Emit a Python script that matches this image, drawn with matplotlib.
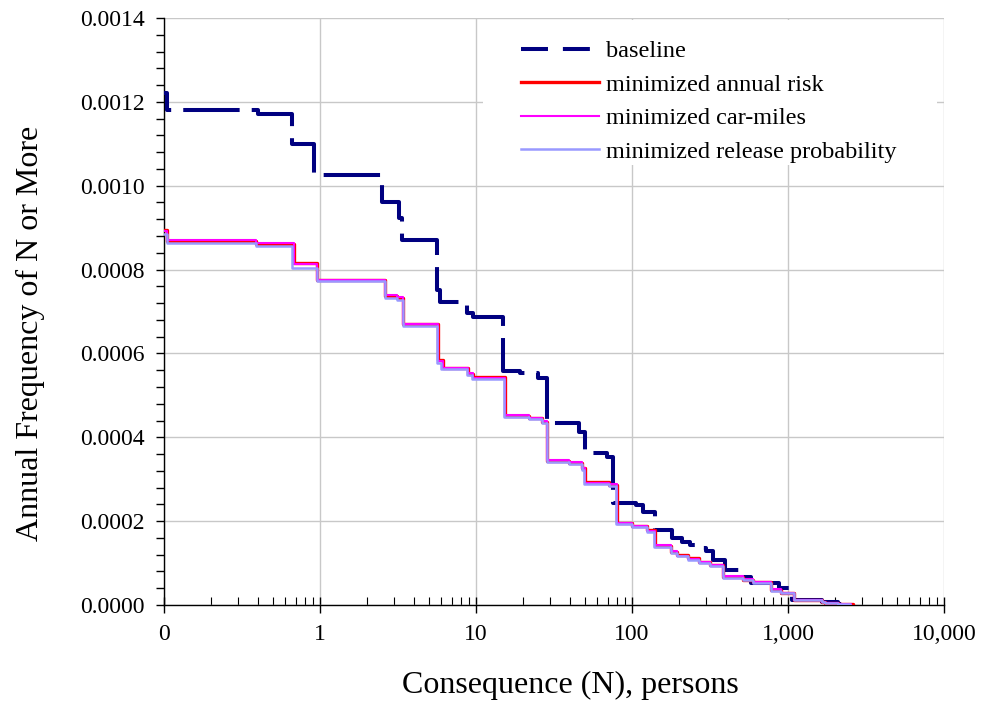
import numpy as np
import matplotlib
matplotlib.use("Agg")
import matplotlib.pyplot as plt
from matplotlib.ticker import FixedLocator, FixedFormatter, LogLocator, MultipleLocator, NullFormatter
from matplotlib.patches import Rectangle
from matplotlib.lines import Line2D

plt.rcParams['font.family'] = ['Liberation Serif', 'DejaVu Serif']

# step data: consequence N where the curve steps, frequency after the step
base_n = [0.1, 0.105, 0.40, 0.66, 0.92, 2.5, 3.2, 3.33, 5.6, 5.9, 8.8, 9.6, 14.9, 19.2, 25, 28.5,
          46, 50, 69, 75.5, 106, 117, 140, 180, 210, 236, 260, 300, 330, 395, 515, 580, 880,
          1060, 1640, 2100, 2500]
base_f = [0.00122, 0.00118, 0.00117, 0.00110, 0.001026, 0.000962, 0.000924, 0.000871, 0.000752,
          0.000723, 0.000697, 0.000687, 0.000558, 0.000553, 0.000541, 0.000434, 0.000413, 0.000363,
          0.000353, 0.000243, 0.000239, 0.000222, 0.000179, 0.00016, 0.00015, 0.000143, 0.000136,
          0.000129, 0.000107, 0.0000835, 0.0000668, 0.0000525, 0.0000406, 0.0000119, 0.000006,
          0.000003, 0.0]

risk_n = [0.1, 0.105, 0.39, 0.68, 0.95, 2.6, 3.13, 3.4, 5.7, 6.1, 8.9, 9.5, 15.4, 22, 26.5, 28.7,
          39.5, 47.8, 50, 71.7, 79.6, 100, 124, 140, 178, 195, 227, 270, 317, 382, 515, 600, 775,
          900, 1100, 1640, 1720, 2100, 2600]
risk_f = [0.000895, 0.000868, 0.000862, 0.000816, 0.000776, 0.000737, 0.000733, 0.000671, 0.000585,
          0.000566, 0.000551, 0.000544, 0.000451, 0.000446, 0.000437, 0.000344, 0.000339, 0.000327,
          0.000294, 0.000286, 0.000196, 0.000189, 0.000179, 0.00014, 0.000126, 0.000119, 0.000112,
          0.000103, 0.0000955, 0.0000668, 0.0000597, 0.0000549, 0.0000358, 0.0000286, 0.0000119,
          0.000007, 0.0000048, 0.000002, 0.0]

cars_n = [0.1, 0.105, 0.39, 0.68, 0.95, 2.6, 3.13, 3.4, 5.7, 6.1, 8.9, 9.5, 15.4, 22, 26.5, 28.7,
          39.5, 47.8, 50, 71.7, 79.6, 100, 124, 140, 178, 195, 227, 270, 317, 382, 515, 600, 775,
          900, 1100, 1640, 1720, 2100, 2550]
cars_f = [0.000892, 0.000870, 0.000864, 0.000814, 0.000775, 0.000740, 0.000735, 0.000670, 0.000582,
          0.000565, 0.000553, 0.000542, 0.000454, 0.000447, 0.000438, 0.000346, 0.000341, 0.000326,
          0.000292, 0.000288, 0.000195, 0.000188, 0.000177, 0.000142, 0.000128, 0.000118, 0.000110,
          0.000102, 0.0000945, 0.0000690, 0.0000610, 0.0000560, 0.0000370, 0.0000295, 0.0000125,
          0.000008, 0.0000055, 0.0000025, 0.0]

prob_n = [0.1, 0.105, 0.39, 0.66, 0.95, 2.6, 3.13, 3.4, 5.6, 6.0, 8.8, 9.4, 15.2, 22, 26.5, 28.4,
          39.5, 47.8, 49.5, 71.7, 78.5, 100, 124, 138, 178, 195, 227, 270, 317, 382, 515, 600, 775,
          900, 1100, 1640, 1720, 2100, 2500]
prob_f = [0.000885, 0.000864, 0.000856, 0.000804, 0.000772, 0.000733, 0.000728, 0.000666, 0.000578,
          0.000562, 0.000548, 0.000538, 0.000448, 0.000443, 0.000433, 0.000340, 0.000336, 0.000323,
          0.000289, 0.000283, 0.000192, 0.000186, 0.000175, 0.000139, 0.000124, 0.000116, 0.000108,
          0.000100, 0.0000925, 0.0000650, 0.0000585, 0.0000535, 0.0000345, 0.0000280, 0.0000110,
          0.0000065, 0.0000045, 0.0000018, 0.0]

x_ticks = [0.1, 1, 10, 100, 1000, 10000]
x_labels = ['0', '1', '10', '100', '1,000', '10,000']
names = ['baseline', 'minimized annual risk', 'minimized car-miles', 'minimized release probability']

fig = plt.figure(figsize=(9.82, 7.02), dpi=100)
ax = fig.add_axes([164 / 982, 97 / 702, 780 / 982, 587 / 702])

l1, = ax.step(base_n, base_f, where='post', color='#000080', lw=2.9, zorder=3)
l1.set_linestyle((8, (14, 3)))
l2, = ax.step(risk_n, risk_f, where='post', color='#FF0000', lw=2.4, zorder=4)
l3, = ax.step(cars_n, cars_f, where='post', color='#FF00FF', lw=1.5, zorder=5)
l4, = ax.step(prob_n, prob_f, where='post', color='#9999FF', lw=1.8, zorder=6)

ax.set_xscale('log')
ax.set_xlim(0.1, 10000)
ax.set_ylim(0, 0.0014)

ax.xaxis.set_major_locator(FixedLocator(x_ticks))
ax.xaxis.set_major_formatter(FixedFormatter(x_labels))
ax.xaxis.set_minor_locator(LogLocator(base=10, subs=np.arange(2, 10)))
ax.xaxis.set_minor_formatter(NullFormatter())
ax.yaxis.set_major_locator(MultipleLocator(0.0002))
ax.yaxis.set_minor_locator(MultipleLocator(0.00004))
ax.yaxis.set_major_formatter(plt.FuncFormatter(lambda v, p: '%.4f' % v))

ax.grid(True, which='major', color='#c8c8c8', lw=1.0)
ax.set_axisbelow(True)

for s in ['top', 'right']:
    ax.spines[s].set_visible(False)
ax.spines['left'].set_linewidth(1.0)
ax.spines['bottom'].set_linewidth(1.0)

ax.tick_params(axis='x', which='major', direction='inout', length=12, width=1.0, labelsize=17, pad=8)
ax.tick_params(axis='x', which='minor', direction='in', length=6, width=0.8)
ax.tick_params(axis='y', which='both', direction='out', length=6, width=1.0)
ax.tick_params(axis='y', which='major', labelsize=17, pad=8)

ax.set_xlabel('Consequence (N), persons', fontsize=23)
ax.set_ylabel('Annual Frequency of N or More', fontsize=23)
ax.xaxis.set_label_coords(0.521, -0.112)
ax.yaxis.set_label_coords(-0.153, 0.4625)

# white box behind legend hides the gridlines
ax.add_patch(Rectangle((0.409, 0.75), 0.582, 0.246, transform=ax.transAxes,
                       facecolor='white', edgecolor='none', zorder=1))
# legend key for baseline uses the shorter dash pattern seen in the legend
base_key = Line2D([], [], color='#000080', lw=2.9, dashes=(6.7, 3.7))
ax.legend([base_key, l2, l3, l4], names, loc='upper left', bbox_to_anchor=(0.458, 0.962),
          frameon=False, fontsize=17.5, handlelength=3.2, handletextpad=0.3, labelspacing=0.47,
          borderpad=0, borderaxespad=0)

fig.savefig('out.png', dpi=100)
